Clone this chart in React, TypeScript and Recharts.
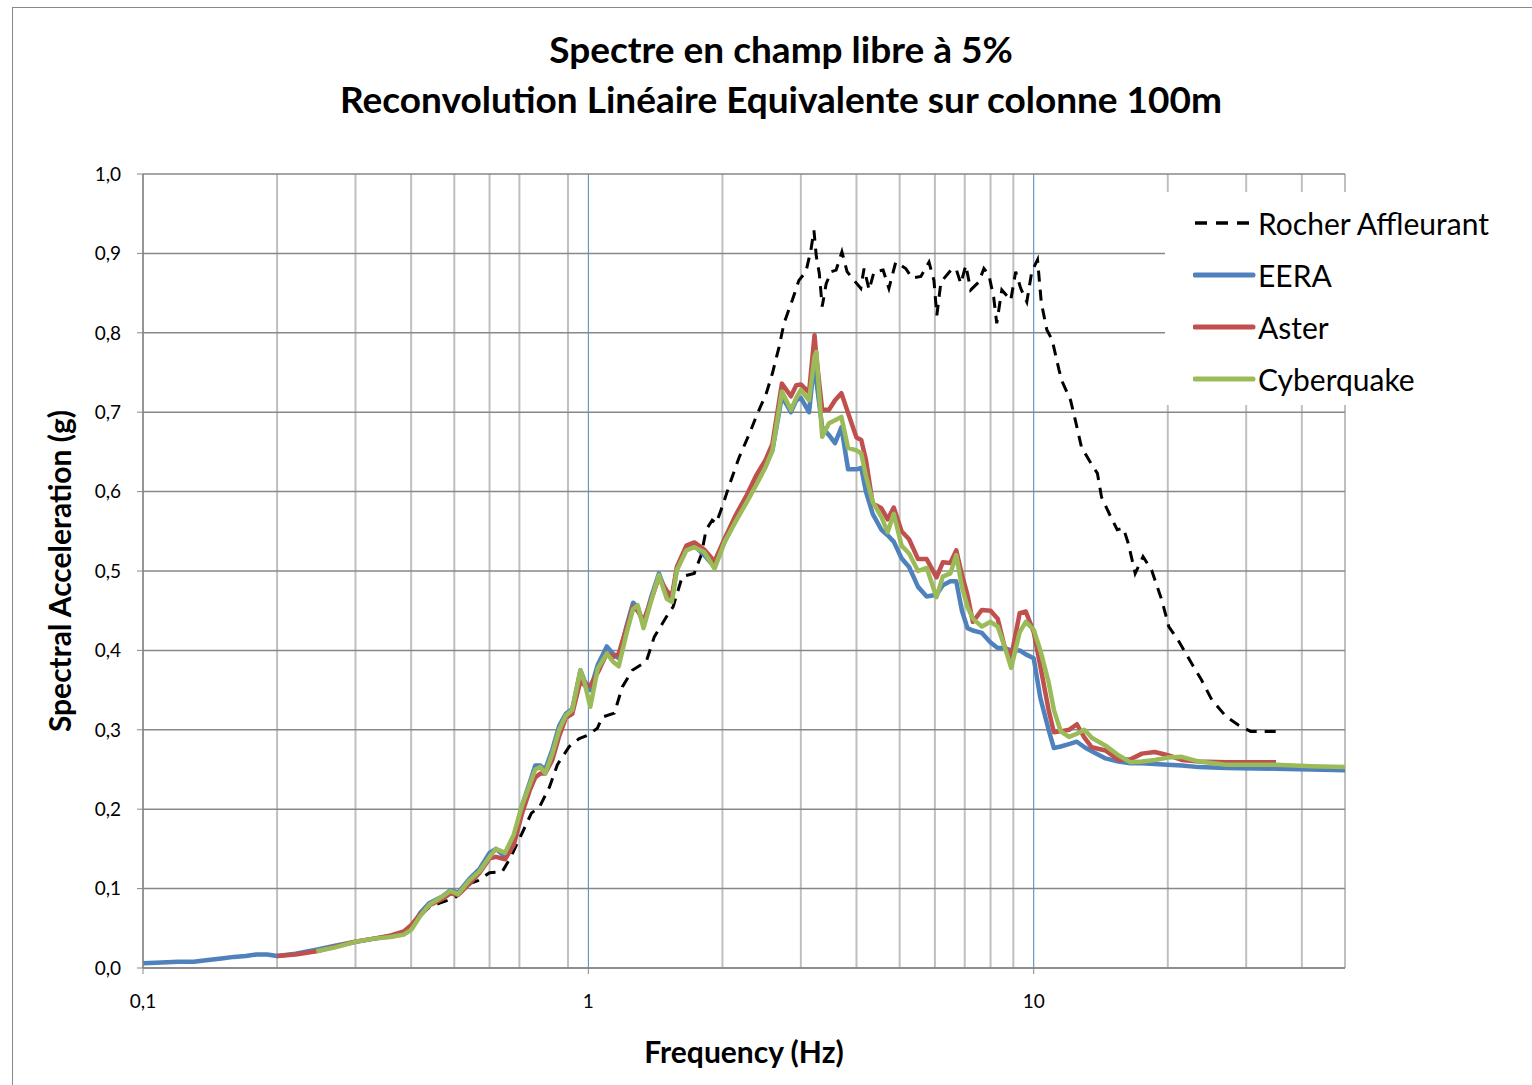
import { LineChart, Line, XAxis, YAxis, CartesianGrid, Legend } from "recharts";

// frequencies (Hz) shared by the three soil column results
const SOIL_FREQ = [
  0.1, 0.11, 0.12, 0.13, 0.14, 0.15, 0.16, 0.17, 0.18, 0.19, 0.2, 0.22, 0.245, 0.27, 0.3, 0.33, 0.36, 0.385,
  0.4, 0.42, 0.44, 0.47, 0.49, 0.51, 0.54, 0.57, 0.6, 0.62, 0.65, 0.68, 0.71, 0.74, 0.76, 0.78, 0.8, 0.83,
  0.86, 0.89, 0.92, 0.96, 0.98, 1.01, 1.05, 1.1, 1.14, 1.17, 1.22, 1.26, 1.29, 1.33, 1.38, 1.44, 1.5, 1.54,
  1.58, 1.66, 1.73, 1.82, 1.92, 2.02, 2.15, 2.27, 2.38, 2.5, 2.59, 2.72, 2.85, 2.93, 3.0, 3.13, 3.22, 3.25,
  3.35, 3.47, 3.58, 3.7, 3.83, 4.0, 4.1, 4.2, 4.35, 4.55, 4.7, 4.85, 5.05, 5.25, 5.5, 5.75, 6.05, 6.25, 6.5,
  6.7, 6.9, 7.1, 7.3, 7.65, 8.0, 8.3, 8.6, 8.9, 9.3, 9.6, 10.0, 10.35, 10.8, 11.1, 11.5, 12.0, 12.5, 13.0,
  13.5, 14.5, 15.5, 16.5, 17.5, 18.7, 20, 21.5, 23.5, 27, 35, 42, 50,
];

const EERA = [
  0.006, 0.007, 0.008, 0.008, 0.01, 0.012, 0.014, 0.015, 0.017, 0.017, 0.015, 0.018, 0.023, 0.028, 0.033, 0.037, 0.04, 0.043,
  0.05, 0.07, 0.082, 0.09, 0.098, 0.095, 0.112, 0.125, 0.145, 0.15, 0.14, 0.162, 0.205, 0.235, 0.255, 0.255, 0.25, 0.275,
  0.305, 0.32, 0.326, 0.375, 0.362, 0.35, 0.382, 0.405, 0.395, 0.39, 0.432, 0.46, 0.455, 0.432, 0.465, 0.497, 0.47, 0.465,
  0.502, 0.528, 0.532, 0.52, 0.505, 0.536, 0.566, 0.59, 0.61, 0.632, 0.652, 0.72, 0.7, 0.715, 0.718, 0.7, 0.766, 0.74,
  0.681, 0.671, 0.661, 0.681, 0.628, 0.628, 0.63, 0.6, 0.572, 0.552, 0.545, 0.537, 0.516, 0.505, 0.48, 0.468, 0.47, 0.482, 0.487,
  0.487, 0.45, 0.428, 0.425, 0.422, 0.41, 0.403, 0.403, 0.4, 0.4, 0.395, 0.39, 0.34, 0.3, 0.277, 0.279, 0.282, 0.285, 0.278,
  0.273, 0.264, 0.26, 0.258, 0.258, 0.257, 0.256, 0.255, 0.253, 0.252, 0.251, 0.25, 0.249,
];

const ASTER = [
  null, null, null, null, null, null, null, null, null, null, 0.015, 0.017, 0.021, 0.027, 0.033, 0.037, 0.041, 0.046,
  0.054, 0.068, 0.079, 0.087, 0.094, 0.092, 0.106, 0.12, 0.138, 0.14, 0.137, 0.155, 0.195, 0.225, 0.24, 0.245, 0.245, 0.262,
  0.292, 0.315, 0.32, 0.362, 0.356, 0.356, 0.372, 0.396, 0.392, 0.396, 0.43, 0.455, 0.45, 0.437, 0.462, 0.492, 0.475, 0.468,
  0.505, 0.532, 0.536, 0.527, 0.512, 0.54, 0.572, 0.596, 0.62, 0.64, 0.66, 0.736, 0.72, 0.734, 0.735, 0.725, 0.797, 0.77,
  0.703, 0.703, 0.715, 0.724, 0.699, 0.668, 0.665, 0.64, 0.585, 0.579, 0.565, 0.58, 0.55, 0.54, 0.515, 0.515, 0.492, 0.511, 0.51,
  0.526, 0.495, 0.47, 0.436, 0.451, 0.45, 0.44, 0.405, 0.392, 0.447, 0.449, 0.423, 0.38, 0.325, 0.297, 0.298, 0.3, 0.307, 0.29,
  0.278, 0.274, 0.262, 0.263, 0.27, 0.272, 0.268, 0.262, 0.26, 0.259, 0.259, null, null,
];

const CYBERQUAKE = [
  null, null, null, null, null, null, null, null, null, null, null, null, 0.021, 0.026, 0.033, 0.037, 0.039, 0.042,
  0.048, 0.066, 0.08, 0.09, 0.097, 0.093, 0.11, 0.122, 0.14, 0.15, 0.145, 0.168, 0.205, 0.232, 0.25, 0.253, 0.245, 0.27,
  0.3, 0.318, 0.325, 0.375, 0.36, 0.329, 0.377, 0.396, 0.385, 0.38, 0.423, 0.452, 0.457, 0.428, 0.46, 0.495, 0.465, 0.461,
  0.501, 0.526, 0.53, 0.524, 0.503, 0.536, 0.564, 0.587, 0.608, 0.631, 0.652, 0.726, 0.703, 0.718, 0.728, 0.715, 0.77, 0.776,
  0.669, 0.686, 0.69, 0.694, 0.655, 0.652, 0.648, 0.62, 0.587, 0.568, 0.549, 0.572, 0.532, 0.522, 0.5, 0.504, 0.467, 0.493, 0.497,
  0.52, 0.48, 0.455, 0.44, 0.43, 0.436, 0.43, 0.405, 0.378, 0.423, 0.436, 0.426, 0.4, 0.36, 0.325, 0.298, 0.291, 0.295, 0.3,
  0.29, 0.28, 0.268, 0.259, 0.26, 0.262, 0.265, 0.266, 0.26, 0.256, 0.256, 0.254, 0.253,
];

// outcropping rock input spectrum
const ROCK_FREQ = [
  0.4, 0.41, 0.44, 0.465, 0.5, 0.52, 0.545, 0.565, 0.6, 0.64, 0.67, 0.71, 0.745, 0.777, 0.818, 0.852, 0.906, 0.954,
  0.995, 1.048, 1.075, 1.144, 1.192, 1.255, 1.349, 1.406, 1.496, 1.55, 1.625, 1.729, 1.792, 1.839, 1.897, 1.936, 1.995,
  2.093, 2.18, 2.3, 2.38, 2.51, 2.59, 2.68, 2.75, 2.87, 2.97, 3.08, 3.16, 3.21, 3.25, 3.3, 3.35, 3.42, 3.51, 3.6, 3.71,
  3.81, 3.91, 4.09, 4.16, 4.27, 4.38, 4.59, 4.73, 4.9, 5.16, 5.33, 5.58, 5.82, 5.97, 6.06, 6.19, 6.52, 6.69, 6.86, 7.04,
  7.22, 7.53, 7.73, 7.93, 8.13, 8.26, 8.48, 8.88, 9.11, 9.35, 9.65, 9.9, 10.2, 10.4, 10.7, 11.0, 11.4, 11.6, 12.1, 12.4,
  12.8, 13.3, 13.9, 14.2, 14.9, 15.4, 15.9, 16.3, 16.9, 17.6, 18.4, 19.4, 20.1, 21.1, 22.6, 23.8, 25.1, 27.0, 28.8, 30.7, 35.0,
];

const ROCHER = [
  0.048, 0.06, 0.077, 0.082, 0.088, 0.096, 0.107, 0.11, 0.12, 0.121, 0.14, 0.17, 0.195, 0.203, 0.228, 0.256, 0.279, 0.289,
  0.293, 0.302, 0.316, 0.321, 0.354, 0.375, 0.386, 0.417, 0.442, 0.455, 0.493, 0.497, 0.52, 0.552, 0.564, 0.56, 0.58,
  0.615, 0.643, 0.673, 0.694, 0.724, 0.749, 0.782, 0.812, 0.841, 0.866, 0.877, 0.904, 0.929, 0.896, 0.875, 0.833, 0.862, 0.877, 0.879, 0.902,
  0.877, 0.869, 0.856, 0.881, 0.854, 0.877, 0.879, 0.856, 0.889, 0.881, 0.869, 0.871, 0.889, 0.866, 0.822, 0.864, 0.879, 0.881, 0.862, 0.885,
  0.854, 0.864, 0.881, 0.873, 0.845, 0.812, 0.854, 0.841, 0.877, 0.856, 0.839, 0.877, 0.892, 0.838, 0.804, 0.791, 0.753, 0.738, 0.715, 0.69,
  0.656, 0.64, 0.623, 0.593, 0.568, 0.552, 0.554, 0.535, 0.497, 0.518, 0.501, 0.463, 0.43, 0.413, 0.384, 0.363, 0.338, 0.317, 0.306, 0.298, 0.298,
];

const X_TICKS = [0.1, 1, 10];
const MINOR_GRID = [0.2, 0.3, 0.4, 0.5, 0.6, 0.7, 0.8, 0.9, 2, 3, 4, 5, 6, 7, 8, 9, 20, 30, 40, 50];
const Y_TICKS = [0, 0.1, 0.2, 0.3, 0.4, 0.5, 0.6, 0.7, 0.8, 0.9, 1.0];

const SERIES = [
  { name: "Rocher Affleurant", color: "#000000", dash: "11 8", width: 3 },
  { name: "EERA", color: "#4F81BD", dash: undefined, width: 4.5 },
  { name: "Aster", color: "#C0504D", dash: undefined, width: 4.5 },
  { name: "Cyberquake", color: "#9BBB59", dash: undefined, width: 4.5 },
];

const FONT = "Lato, 'Liberation Sans', sans-serif";

const toPoints = (freqs: number[], vals: (number | null)[]) =>
  freqs.map((f, i) => ({ f, sa: vals[i] })).filter((p) => p.sa != null);

const rocherData = toPoints(ROCK_FREQ, ROCHER);
const eeraData = toPoints(SOIL_FREQ, EERA);
const asterData = toPoints(SOIL_FREQ, ASTER);
const cyberData = toPoints(SOIL_FREQ, CYBERQUAKE);

const comma = (v: number, digits?: number) =>
  (digits == null ? String(v) : v.toFixed(digits)).replace(".", ",");

const LegendBox = () => (
  <div style={{ paddingTop: 5, fontFamily: FONT }}>
    {SERIES.map((s) => (
      <div key={s.name} style={{ display: "flex", alignItems: "center", height: 52 }}>
        <svg width={66} height={10} style={{ marginLeft: 28 }}>
          <line
            x1={2}
            y1={5}
            x2={60}
            y2={5}
            stroke={s.color}
            strokeWidth={s.dash ? 3.5 : 5}
            strokeDasharray={s.dash ? "12 9" : undefined}
            strokeLinecap={s.dash ? "butt" : "round"}
          />
        </svg>
        <span style={{ fontSize: 30, color: "#000", marginLeft: -1, whiteSpace: "nowrap" }}>{s.name}</span>
      </div>
    ))}
  </div>
);

export default function App() {
  return (
    <div
      style={{
        position: "absolute",
        left: 0,
        top: 0,
        width: 1532,
        height: 1085,
        overflow: "hidden",
        background: "#fff",
      }}
    >
      <div
        style={{
          position: "absolute",
          left: 12,
          top: 7,
          width: 1560,
          height: 1120,
          border: "1px solid #8a8a8a",
        }}
      />
      <div
        style={{
          position: "absolute",
          left: 0,
          top: 24,
          width: 1562,
          textAlign: "center",
          fontFamily: FONT,
          fontWeight: 700,
          fontSize: 37,
          lineHeight: "50px",
          color: "#000",
        }}
      >
        <div>Spectre en champ libre à 5%</div>
        <div>Reconvolution Linéaire Equivalente sur colonne 100m</div>
      </div>
      <div style={{ position: "absolute", left: 0, top: 0 }}>
        <LineChart width={1532} height={1085} margin={{ top: 174, right: 187, bottom: 17, left: 63 }}>
          <XAxis
            xAxisId="minor"
            dataKey="f"
            type="number"
            scale="log"
            domain={[0.1, 50]}
            ticks={MINOR_GRID}
            allowDataOverflow
            hide
          />
          <CartesianGrid horizontal={false} stroke="#4F81BD" strokeWidth={1} />
          <CartesianGrid xAxisId="minor" horizontal={false} stroke="#BFBFBF" strokeWidth={2} />
          <CartesianGrid vertical={false} stroke="#878787" strokeWidth={1.5} />
          <XAxis
            dataKey="f"
            type="number"
            scale="log"
            domain={[0.1, 50]}
            ticks={X_TICKS}
            allowDataOverflow
            height={100}
            interval={0}
            tickFormatter={(v: number) => comma(v)}
            tick={{ fill: "#000", fontSize: 19, fontFamily: FONT }}
            tickSize={6}
            tickMargin={21}
            stroke="#878787"
            axisLine={{ stroke: "#878787", strokeWidth: 1.5 }}
            label={{
              value: "Frequency (Hz)",
              position: "insideBottom",
              offset: 5,
              style: { fontSize: 30, fontWeight: 700, fontFamily: FONT, fill: "#000" },
            }}
          />
          <YAxis
            type="number"
            domain={[0, 1]}
            ticks={Y_TICKS}
            width={80}
            interval={0}
            tickFormatter={(v: number) => comma(v, 1)}
            tick={{ fill: "#000", fontSize: 19, fontFamily: FONT }}
            tickSize={6}
            tickMargin={16}
            stroke="#878787"
            axisLine={{ stroke: "#878787", strokeWidth: 1.5 }}
            label={{
              value: "Spectral Acceleration (g)",
              angle: -90,
              position: "insideLeft",
              offset: -3,
              style: { textAnchor: "middle", fontSize: 30, fontWeight: 700, fontFamily: FONT, fill: "#000" },
            }}
          />
          <Line
            data={rocherData}
            dataKey="sa"
            name={SERIES[0].name}
            type="linear"
            stroke={SERIES[0].color}
            strokeWidth={SERIES[0].width}
            strokeDasharray={SERIES[0].dash}
            dot={false}
            activeDot={false}
            isAnimationActive={false}
          />
          <Line
            data={eeraData}
            dataKey="sa"
            name={SERIES[1].name}
            type="linear"
            stroke={SERIES[1].color}
            strokeWidth={SERIES[1].width}
            strokeLinejoin="round"
            dot={false}
            activeDot={false}
            isAnimationActive={false}
          />
          <Line
            data={asterData}
            dataKey="sa"
            name={SERIES[2].name}
            type="linear"
            stroke={SERIES[2].color}
            strokeWidth={SERIES[2].width}
            strokeLinejoin="round"
            dot={false}
            activeDot={false}
            isAnimationActive={false}
          />
          <Line
            data={cyberData}
            dataKey="sa"
            name={SERIES[3].name}
            type="linear"
            stroke={SERIES[3].color}
            strokeWidth={SERIES[3].width}
            strokeLinejoin="round"
            dot={false}
            activeDot={false}
            isAnimationActive={false}
          />
          <Legend
            layout="horizontal"
            verticalAlign="middle"
            align="center"
            content={<LegendBox />}
            wrapperStyle={{ left: 1165, top: 192, width: 360, height: 213, background: "#fff" }}
          />
        </LineChart>
      </div>
    </div>
  );
}
